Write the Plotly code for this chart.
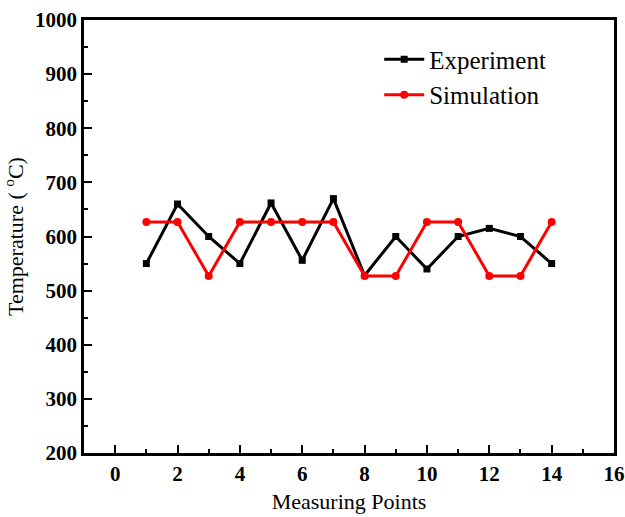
import plotly.graph_objects as go

points = list(range(1, 15))
experiment = [550, 660, 600, 550, 662, 556, 670, 528, 600, 540, 600, 615, 600, 550]
simulation = [627, 627, 527, 627, 627, 627, 627, 527, 527, 627, 627, 527, 527, 627]

x_ticks = list(range(0, 17, 2))
y_ticks = list(range(200, 1001, 100))

fig = go.Figure()
fig.add_trace(go.Scatter(
    x=points, y=experiment, mode="lines+markers", name="Experiment",
    line=dict(color="black", width=3),
    marker=dict(symbol="square", size=7, color="black"),
))
fig.add_trace(go.Scatter(
    x=points, y=simulation, mode="lines+markers", name="Simulation",
    line=dict(color="red", width=3),
    marker=dict(symbol="circle", size=8, color="red"),
))

axis_common = dict(
    showline=True, linecolor="black", linewidth=2.5, mirror=True,
    showgrid=False, zeroline=False, automargin=False,
    ticklabeloverflow="allow",
    ticks="inside", ticklen=8, tickwidth=2, tickcolor="black",
    tickfont=dict(family="Liberation Serif", size=21, color="black", weight="bold"),
)

fig.update_xaxes(
    range=[-1, 16], tickvals=x_ticks,
    minor=dict(dtick=1, ticks="inside", ticklen=4, tickwidth=2, tickcolor="black"),
    title=dict(text="Measuring Points", font=dict(family="Liberation Serif", size=22, color="black"), standoff=9),
    **axis_common,
)
fig.update_yaxes(
    range=[200, 1000], tickvals=y_ticks,
    minor=dict(dtick=50, ticks="inside", ticklen=4, tickwidth=2, tickcolor="black"),
    title=dict(text="Temperature ( <sup>o</sup>C)", font=dict(family="Liberation Serif", size=22, color="black"), standoff=10),
    **axis_common,
)

fig.update_layout(
    width=625, height=517,
    margin=dict(l=84, r=11, t=20, b=64, autoexpand=False),
    plot_bgcolor="white", paper_bgcolor="white",
    legend=dict(
        x=0.557, y=0.962, xanchor="left", yanchor="top",
        font=dict(family="Liberation Serif", size=25, color="black"),
        bgcolor="rgba(0,0,0,0)", tracegroupgap=0, itemwidth=40,
    ),
    showlegend=True,
)

fig.write_html("out.html", config={"displayModeBar": False},
               post_script="document.body.style.margin='0';")
